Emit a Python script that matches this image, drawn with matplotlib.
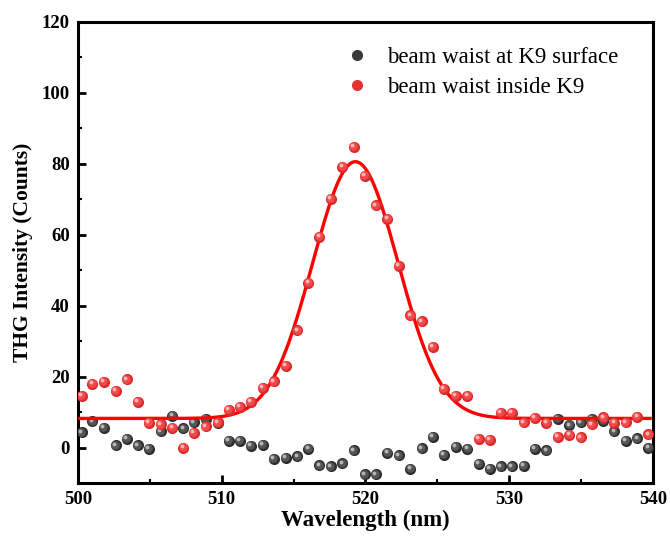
import numpy as np
import matplotlib
matplotlib.use("Agg")
import matplotlib.pyplot as plt
from matplotlib.transforms import offset_copy
from matplotlib.lines import Line2D

plt.rcParams['font.family'] = ['Liberation Serif', 'DejaVu Serif']

wavelength = [500.26, 501.00, 501.81, 502.62, 503.39, 504.15, 504.94, 505.75, 506.56, 507.33,
              508.07, 508.90, 509.72, 510.50, 511.27, 512.03, 512.85, 513.63, 514.47, 515.25,
              516.02, 516.80, 517.60, 518.39, 519.20, 519.97, 520.73, 521.53, 522.33, 523.12,
              523.92, 524.68, 525.47, 526.28, 527.08, 527.88, 528.66, 529.40, 530.20, 531.00,
              531.80, 532.58, 533.38, 534.18, 534.97, 535.73, 536.54, 537.30, 538.10, 538.90,
              539.67]

surface = [4.3, 7.4, 5.5, 0.6, 2.5, 0.6, -0.3, 4.6, 9.0, 5.4,
           7.1, 8.1, 6.8, 1.8, 1.8, 0.4, 0.8, -3.2, -2.9, -2.5,
           -0.3, -5.0, -5.3, -4.5, -0.8, -7.6, -7.6, -1.5, -2.2, -6.0,
           -0.2, 3.0, -2.0, 0.1, -0.4, -4.6, -6.0, -5.3, -5.3, -5.1,
           -0.3, -0.8, 8.0, 6.3, 7.1, 8.0, 7.5, 4.6, 1.9, 2.6,
           0.0]

inside = [14.5, 18.0, 18.5, 15.9, 19.2, 12.8, 7.0, 6.5, 5.5, 0.0,
          4.1, 6.0, 7.1, 10.7, 11.4, 12.8, 16.8, 18.7, 23.1, 33.0,
          46.4, 59.4, 70.1, 79.2, 84.7, 76.7, 68.3, 64.5, 51.3, 37.3,
          35.6, 28.4, 16.6, 14.6, 14.6, 2.5, 2.1, 9.7, 9.7, 7.1,
          8.3, 6.9, 3.0, 3.6, 2.9, 6.5, 8.5, 7.0, 7.1, 8.7,
          3.7]

# Gaussian fit parameters
fit_y0 = 8.2
fit_A = 72.4
fit_xc = 519.3
fit_sigma = 2.97
fit_range = (500.0, 539.8)

labels = ["beam waist at K9 surface", "beam waist inside K9"]
x_ticks = [500, 510, 520, 530, 540]
y_ticks = [0, 20, 40, 60, 80, 100, 120]

fig = plt.figure(figsize=(6.7, 5.4), dpi=100)
ax = fig.add_axes([0.1164, 0.1056, 0.8582, 0.8537])


def spheres(x, y, base, mid, light, s, z):
    ax.scatter(x, y, s=s, c=base, linewidths=0, zorder=z)
    t1 = offset_copy(ax.transData, fig=fig, x=-0.5, y=0.5, units='points')
    ax.scatter(x, y, s=s * 0.6, c=mid, linewidths=0, zorder=z + 0.1, transform=t1)
    t2 = offset_copy(ax.transData, fig=fig, x=-1.2, y=1.2, units='points')
    ax.scatter(x, y, s=s * 0.12, c=light, linewidths=0, zorder=z + 0.2, transform=t2)


S = 64
spheres(wavelength, surface, '#2e2e2e', '#555555', '#b5b5b5', S, 3)
xf = np.linspace(fit_range[0], fit_range[1], 600)
yf = fit_y0 + fit_A * np.exp(-(xf - fit_xc) ** 2 / (2 * fit_sigma ** 2))
ax.plot(xf, yf, color='#ff0000', lw=2.4, zorder=4)
spheres(wavelength, inside, '#dc2a2a', '#f04a4a', '#ffb5b5', S, 5)

ax.set_xlim(500, 540)
ax.set_ylim(-10, 120)
ax.set_xticks(x_ticks)
ax.set_yticks(y_ticks)
ax.set_xticks([505, 515, 525, 535], minor=True)
ax.set_yticks([10, 30, 50, 70, 90, 110], minor=True)
ax.tick_params(which='major', direction='in', length=6, width=2, labelsize=13.5, pad=6)
ax.tick_params(which='minor', direction='in', length=3, width=1.5)
for lab in ax.get_xticklabels() + ax.get_yticklabels():
    lab.set_fontweight('bold')
for sp in ax.spines.values():
    sp.set_linewidth(2.2)

ax.set_xlabel("Wavelength (nm)", fontsize=16.5, fontweight='bold', labelpad=1)
ax.set_ylabel("THG Intensity (Counts)", fontsize=15.5, fontweight='bold', labelpad=6)

handles = [Line2D([], [], ls='none', marker='o', ms=7, mfc='#3a3a3a', mec='#3a3a3a'),
           Line2D([], [], ls='none', marker='o', ms=7, mfc='#e53333', mec='#e53333')]
ax.legend(handles, labels, loc='upper left', bbox_to_anchor=(0.466, 0.946), frameon=False,
          borderpad=0, borderaxespad=0, fontsize=16.5, handletextpad=0.8,
          labelspacing=0.38, handlelength=1.0)

fig.savefig("out.png", dpi=100)
